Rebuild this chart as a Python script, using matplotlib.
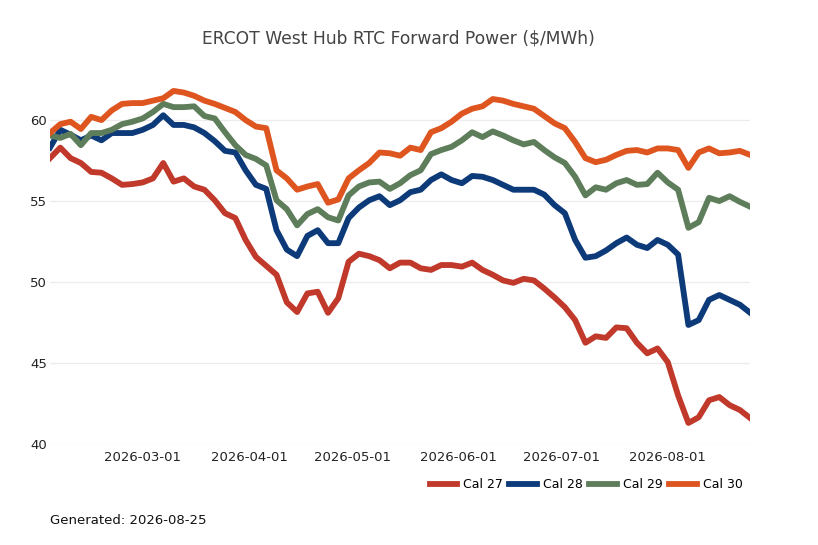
import pandas as pd
import matplotlib
matplotlib.use("Agg")
import matplotlib.pyplot as plt

# one mark every 3 days, 2026-02-02 .. 2026-08-25
dates = pd.date_range("2026-02-02", "2026-08-25", freq="3D")

cal27 = [57.65, 58.3, 57.65, 57.35, 56.8, 56.75, 56.4, 56.0, 56.05, 56.15,
         56.4, 57.35, 56.2, 56.4, 55.9, 55.7, 55.05, 54.25, 53.95, 52.6,
         51.55, 51.0, 50.45, 48.75, 48.15, 49.3, 49.4, 48.1, 49.0, 51.25,
         51.75, 51.6, 51.35, 50.85, 51.2, 51.2, 50.85, 50.75, 51.05, 51.05,
         50.95, 51.2, 50.75, 50.45, 50.1, 49.95, 50.2, 50.1, 49.6, 49.05,
         48.45, 47.65, 46.25, 46.65, 46.55, 47.2, 47.15, 46.25, 45.6, 45.9,
         45.05, 43.0, 41.3, 41.65, 42.7, 42.9, 42.4, 42.1, 41.6]
cal28 = [58.3, 59.4, 59.1, 58.75, 59.05, 58.75, 59.2, 59.2, 59.2, 59.4,
         59.7, 60.3, 59.7, 59.7, 59.55, 59.2, 58.7, 58.1, 58.0, 56.9,
         56.0, 55.75, 53.2, 52.0, 51.6, 52.85, 53.2, 52.4, 52.4, 53.95,
         54.6, 55.05, 55.3, 54.75, 55.05, 55.55, 55.7, 56.3, 56.65, 56.3,
         56.1, 56.55, 56.5, 56.3, 56.0, 55.7, 55.7, 55.7, 55.4, 54.75,
         54.25, 52.6, 51.5, 51.6, 51.95, 52.4, 52.75, 52.3, 52.1, 52.6,
         52.3, 51.7, 47.35, 47.65, 48.9, 49.2, 48.9, 48.6, 48.1]
cal29 = [59.05, 58.9, 59.15, 58.45, 59.2, 59.2, 59.4, 59.75, 59.9, 60.1,
         60.5, 61.0, 60.8, 60.8, 60.85, 60.25, 60.1, 59.25, 58.45, 57.85,
         57.6, 57.2, 55.05, 54.5, 53.5, 54.2, 54.5, 54.0, 53.8, 55.35,
         55.9, 56.15, 56.2, 55.75, 56.1, 56.6, 56.9, 57.9, 58.15, 58.35,
         58.75, 59.25, 58.95, 59.3, 59.05, 58.75, 58.5, 58.65, 58.15, 57.7,
         57.35, 56.5, 55.35, 55.85, 55.7, 56.1, 56.3, 56.0, 56.05, 56.75,
         56.15, 55.7, 53.35, 53.7, 55.2, 55.0, 55.3, 54.95, 54.65]
cal30 = [59.2, 59.75, 59.9, 59.45, 60.2, 60.0, 60.6, 61.0, 61.05, 61.05,
         61.2, 61.35, 61.8, 61.7, 61.5, 61.2, 61.0, 60.75, 60.5, 60.0,
         59.6, 59.5, 56.9, 56.4, 55.7, 55.9, 56.05, 54.9, 55.1, 56.4,
         56.9, 57.35, 58.0, 57.95, 57.8, 58.3, 58.15, 59.25, 59.5, 59.9,
         60.4, 60.7, 60.85, 61.3, 61.2, 61.0, 60.85, 60.7, 60.25, 59.8,
         59.5, 58.65, 57.65, 57.4, 57.55, 57.85, 58.1, 58.15, 58.0, 58.25,
         58.25, 58.15, 57.05, 58.0, 58.25, 57.95, 58.0, 58.1, 57.85]

names = ["Cal 27", "Cal 28", "Cal 29", "Cal 30"]
colors = ["#C0392B", "#0D3A78", "#5E7D5A", "#DE5520"]

fig = plt.figure(figsize=(8.18, 5.45), dpi=100)
ax = fig.add_axes([0.0611, 0.1853, 0.856, 0.6642])

for vals, name, c in zip([cal27, cal28, cal29, cal30], names, colors):
    ax.plot(dates, vals, color=c, lw=4.2, label=name)

ax.set_xlim(pd.Timestamp("2026-02-02"), pd.Timestamp("2026-08-25"))
ax.set_ylim(40, 62.35)
ax.set_yticks([40, 45, 50, 55, 60])
ticks = pd.to_datetime(["2026-03-01", "2026-04-01", "2026-05-01",
                        "2026-06-01", "2026-07-01", "2026-08-01"])
ax.set_xticks(ticks)
ax.set_xticklabels([t.strftime("%Y-%m-%d") for t in ticks])
ax.tick_params(length=0, labelsize=9.5, colors="#222222")
ax.tick_params(axis="x", pad=5)
ax.tick_params(axis="y", pad=2)
ax.grid(axis="y", color="#ececec", lw=0.9)
ax.set_axisbelow(True)
for s in ax.spines.values():
    s.set_visible(False)

fig.text(0.487, 0.93, "ERCOT West Hub RTC Forward Power ($/MWh)",
         ha="center", va="center", fontsize=12.3, color="#444444")

fig.legend(loc="center right", bbox_to_anchor=(0.914, 1 - 485 / 545), ncol=4,
           frameon=False, fontsize=9, handlelength=2.2, columnspacing=0.5,
           handletextpad=0.5, borderaxespad=0)

fig.text(50 / 818, 1 - 520 / 545, "Generated: 2026-08-25", ha="left",
         va="center", fontsize=9.5, color="#111111")

fig.savefig("out.png", dpi=100)
